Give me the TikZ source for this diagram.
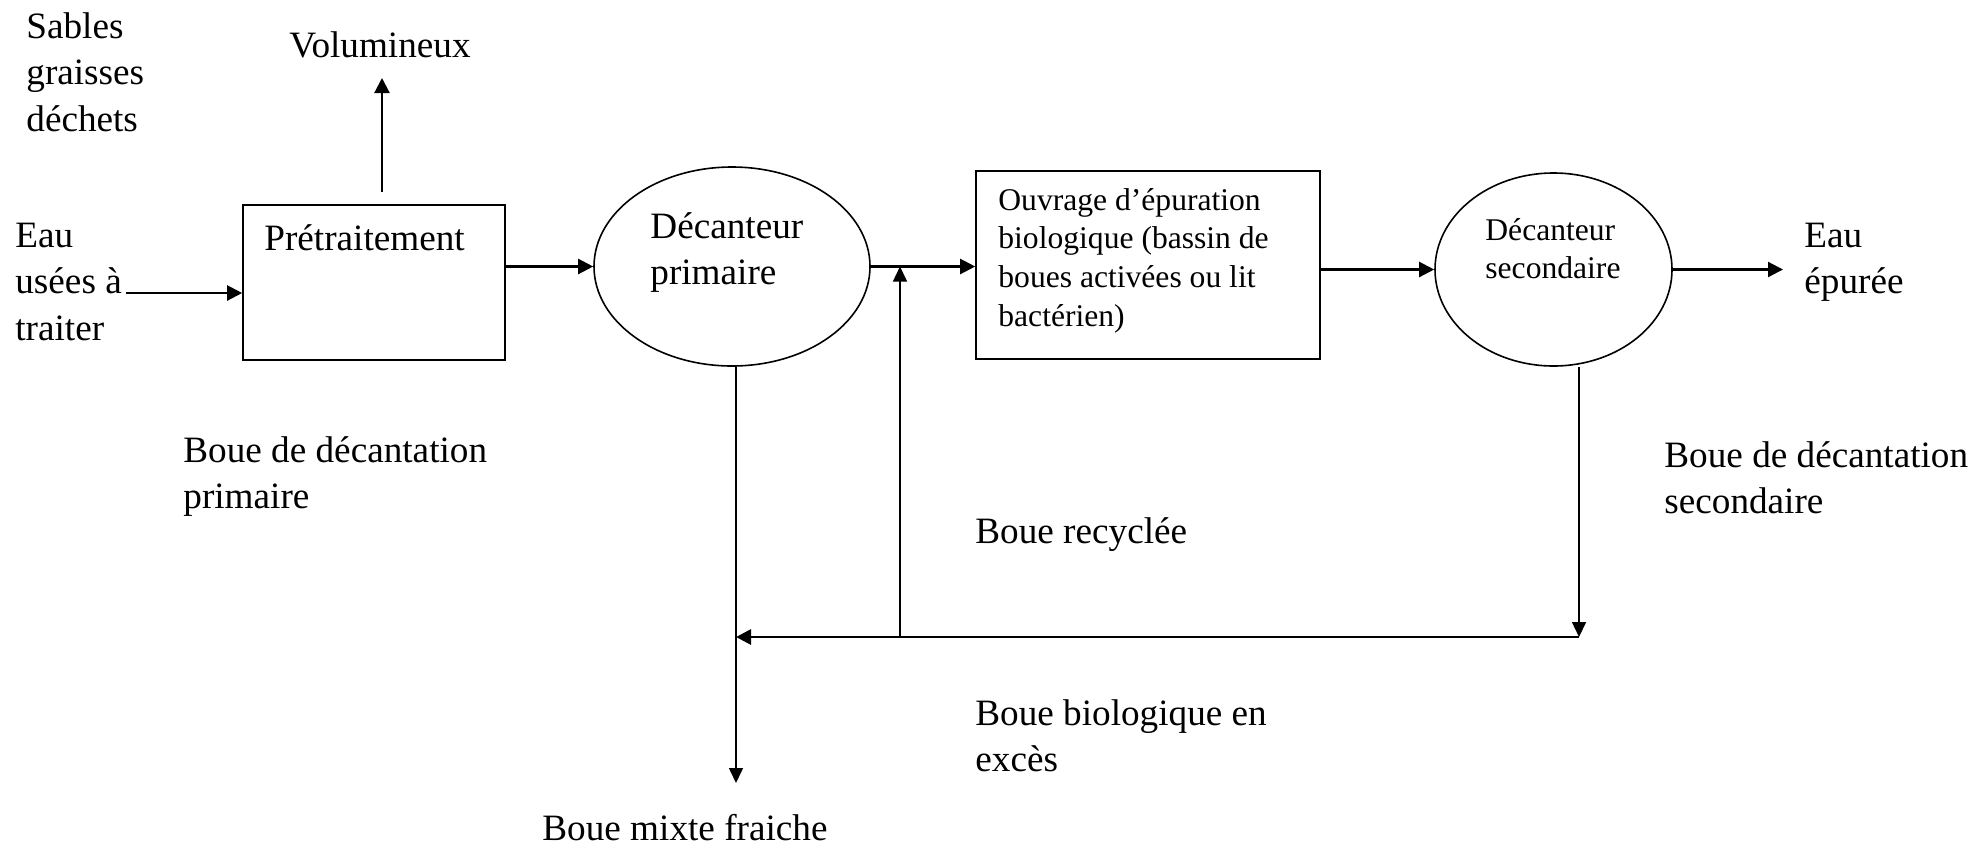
\documentclass[tikz,border=0pt]{standalone}
\usepackage{fontspec}
\setmainfont{Liberation Serif}
\usetikzlibrary{arrows.meta,shapes.geometric,calc}
\newcommand{\bigf}{\fontsize{18.6}{23.3}\selectfont}
\newcommand{\smallf}{\fontsize{15.8}{19.4}\selectfont}
\begin{document}
\begin{tikzpicture}[x=0.5pt,y=-0.5pt,
  txt/.style={inner sep=0pt,anchor=base west,font=\bigf},
  stxt/.style={inner sep=0pt,anchor=base west,font=\smallf},
  boxs/.style={draw,line width=0.8pt,rectangle,inner sep=0pt},
  ells/.style={draw,line width=0.8pt,ellipse,inner sep=0pt},
  flow/.style={line width=1.1pt,-{Triangle[length=7.5pt,width=7.5pt]}},
  thinarr/.style={line width=0.75pt,-{Triangle[length=7.5pt,width=7pt]}},
  thick/.style={line width=1.4pt,-{Triangle[length=7.5pt,width=7.5pt]}}
]
\useasboundingbox (0,0) rectangle (1974,847);

% shapes
\node[boxs,minimum width=131pt,minimum height=77.5pt] (pre) at (374,282.5) {};
\node[ells,minimum width=138pt,minimum height=99.5pt] (dp) at (732,266.5) {};
\node[boxs,minimum width=172pt,minimum height=94pt] (ob) at (1148,265) {};
\node[ells,minimum width=118.5pt,minimum height=96.5pt] (ds) at (1553.5,269.5) {};

% texts
\node[txt] (sables) at (26,38) {\begin{tabular}[t]{@{}l@{}}Sables\\graisses\\déchets\end{tabular}};
\node[txt] (vol) at (289,57) {Volumineux};
\node[txt] (eau) at (15,247) {\begin{tabular}[t]{@{}l@{}}Eau\\usées à\\traiter\end{tabular}};
\node[txt] (pretxt) at (264,250) {Prétraitement};
\node[txt] (dptxt) at (650,238) {\begin{tabular}[t]{@{}l@{}}Décanteur\\primaire\end{tabular}};
\node[stxt] (obtxt) at (998,210) {\begin{tabular}[t]{@{}l@{}}Ouvrage d’épuration\\biologique (bassin de\\boues activées ou lit\\bactérien)\end{tabular}};
\node[stxt] (dstxt) at (1485,240) {\begin{tabular}[t]{@{}l@{}}Décanteur\\secondaire\end{tabular}};
\node[txt] (epur) at (1804,247) {\begin{tabular}[t]{@{}l@{}}Eau\\épurée\end{tabular}};
\node[txt] (bdp) at (183,462) {\begin{tabular}[t]{@{}l@{}}Boue de décantation\\primaire\end{tabular}};
\node[txt] (bds) at (1664,467) {\begin{tabular}[t]{@{}l@{}}Boue de décantation\\secondaire\end{tabular}};
\node[txt] (brec) at (975,543) {Boue recyclée};
\node[txt] (bbio) at (975,725) {\begin{tabular}[t]{@{}l@{}}Boue biologique en\\excès\end{tabular}};
\node[txt] (bmix) at (542,840) {Boue mixte fraiche};

% coordinates
\coordinate (in) at (126,293);
\coordinate (voltail) at (382,192);
\coordinate (voltip) at (382,78);
\coordinate (outtip) at (1783,268);
\coordinate (c2) at (1579,637);
\coordinate (c1) at (736,637);
\coordinate (cr) at (900,637);
\coordinate (mixtip) at (736,783);

% connectors
\draw[flow] (in) -- (in -| pre.west);
\draw[flow] (voltail) -- (voltip);
\draw[flow] (pre.east |- dp.west) -- (dp.west);
\draw[flow] (dp.east) -- (dp.east -| ob.west);
\draw[flow] (ob.east |- ds.west) -- (ds.west);
\draw[flow] (ds.east) -- (ds.east -| outtip);
\draw[thinarr] (ds.south -| c2) -- (c2);
\draw[thick] (c2) -- (c1);
\draw[thinarr] (cr) -- (cr |- dp.east);
\draw[thinarr] (dp.south -| c1) -- (mixtip);
\end{tikzpicture}
\end{document}
